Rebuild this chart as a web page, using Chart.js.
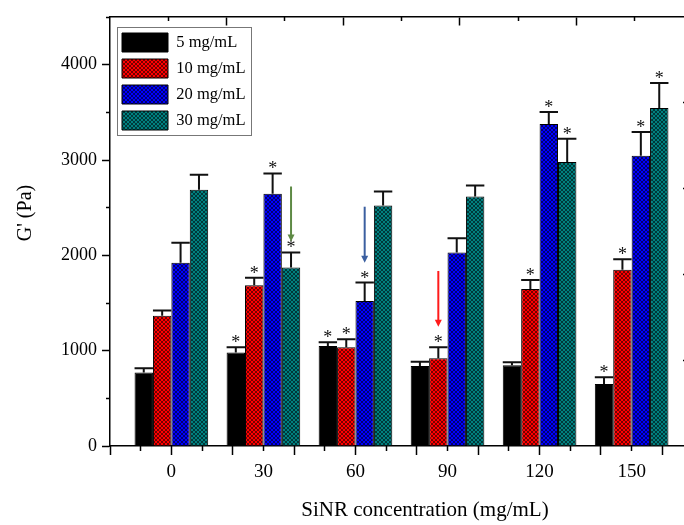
<!DOCTYPE html>
<html>
<head>
<meta charset="utf-8">
<script src="https://cdn.jsdelivr.net/npm/chart.js@4.4.1/dist/chart.umd.min.js"></script>
<style>
html,body{margin:0;padding:0;background:#fff;overflow:hidden;width:684px;height:525px}
#wrap{width:700px;height:525px;position:relative}
</style>
</head>
<body>
<div id="wrap"><canvas id="c" width="700" height="525"></canvas></div>
<script>
// ---------- data ----------
const categories = ['0', '30', '60', '90', '120', '150'];
const catPos = [1, 2.5, 4, 5.5, 7, 8.5];
const seriesNames = ['5 mg/mL', '10 mg/mL', '20 mg/mL', '30 mg/mL'];

const g5  = [770, 980, 1050, 840, 847, 651];
const g10 = [1365, 1687, 1036, 920, 1648, 1848];
const g20 = [1921, 2646, 1522, 2030, 3377, 3045];
const g30 = [2688, 1872, 2523, 2618, 2978, 3545];

const e5  = [46, 56, 39, 45, 31, 70];
const e10 = [56, 77, 84, 116, 92, 112];
const e20 = [210, 213, 193, 150, 126, 248];
const e30 = [157, 158, 147, 115, 245, 263];

const sig5  = [0, 1, 1, 0, 0, 1];
const sig10 = [0, 1, 1, 1, 1, 1];
const sig20 = [0, 1, 1, 0, 1, 1];
const sig30 = [0, 1, 0, 0, 1, 1];

const yTickValues = [0, 1000, 2000, 3000, 4000];
const yMinorTicks = [500, 1500, 2500, 3500, 4500];
const xMajorTicks = [0, 1, 2, 3, 4, 5, 6, 7, 8, 9];
const xMinorTicks = [0.5, 1.5, 2.5, 3.5, 4.5, 5.5, 6.5, 7.5, 8.5, 9.5];
const topMajorTicks = [1.9, 3.8, 5.7, 7.6];
const topMinorTicks = [0.95, 2.85, 4.75, 6.65, 8.55];
const rightTicks = [1, 2, 3, 4];
const yMax = 4500;

// annotation arrows: series index, category index, from value, to value
const arrowSeries = [3, 2, 1];
const arrowCat = [1, 2, 3];
const arrowFrom = [2722, 2510, 1836];
const arrowTo = [2145, 1923, 1252];
const arrowColors = ['#5e8a45', '#3b5fa0', '#ff1a1a'];

const seriesVals = [g5, g10, g20, g30];
const seriesErr = [e5, e10, e20, e30];
const seriesSig = [sig5, sig10, sig20, sig30];

// ---------- styles ----------
const FONT = '"Liberation Serif", "Times New Roman", serif';
Chart.defaults.font.family = FONT;
Chart.defaults.color = '#000';

const canvas = document.getElementById('c');
const mainCtx = canvas.getContext('2d');
function hatch(color) {
  const c = document.createElement('canvas');
  c.width = 4; c.height = 4;
  const x = c.getContext('2d');
  x.fillStyle = color; x.fillRect(0, 0, 4, 4);
  x.strokeStyle = 'rgba(0,0,0,0.7)'; x.lineWidth = 0.8;
  x.beginPath();
  x.moveTo(0, 0); x.lineTo(4, 4);
  x.moveTo(4, 0); x.lineTo(0, 4);
  x.stroke();
  return mainCtx.createPattern(c, 'repeat');
}
const fills = ['#000000', hatch('#ff0000'), hatch('#0000ff'), hatch('#008080')];

function tickAxis(axis, position, min, max, values, len, border) {
  return {
    type: 'linear', axis, position, min, max, weight: 0, offset: false,
    afterBuildTicks: s => { s.ticks = values.map(v => ({ value: v })); },
    afterFit: s => { if (axis === 'x') s.height = 0; else s.width = 0; },
    ticks: { display: false },
    grid: { display: true, offset: false, drawOnChartArea: false, drawTicks: true, tickLength: len, tickColor: '#000', tickWidth: 1.5 },
    border: { display: !!border, color: '#000', width: 1.5 }
  };
}

const decor = {
  id: 'decor',
  afterLayout(chart) {
    const lg = chart.legend, ca = chart.chartArea;
    if (lg) {
      lg.left = ca.left + 5; lg.top = ca.top + 9;
      lg.right = lg.left + lg.width; lg.bottom = lg.top + lg.height;
    }
  },
  afterDatasetsDraw(chart) {
    const ctx = chart.ctx, ys = chart.scales.y;
    ctx.save();
    seriesVals.forEach((vals, d) => {
      const meta = chart.getDatasetMeta(d);
      meta.data.forEach((el, i) => {
        const top = ys.getPixelForValue(vals[i] + seriesErr[d][i]);
        const w = el.width;
        ctx.strokeStyle = '#111'; ctx.lineWidth = 2;
        ctx.beginPath();
        ctx.moveTo(el.x, el.y); ctx.lineTo(el.x, top);
        ctx.moveTo(el.x - w / 2, top); ctx.lineTo(el.x + w / 2, top);
        ctx.stroke();
        if (seriesSig[d][i]) {
          ctx.fillStyle = '#111';
          ctx.font = '18px ' + FONT;
          ctx.textAlign = 'center'; ctx.textBaseline = 'alphabetic';
          ctx.fillText('*', el.x, top + 1);
        }
      });
    });
    arrowSeries.forEach((s, k) => {
      const el = chart.getDatasetMeta(s).data[arrowCat[k]];
      const x = el.x;
      const y1 = ys.getPixelForValue(arrowFrom[k]);
      const y2 = ys.getPixelForValue(arrowTo[k]);
      ctx.strokeStyle = arrowColors[k]; ctx.fillStyle = arrowColors[k];
      ctx.lineWidth = 2;
      ctx.beginPath(); ctx.moveTo(x, y1); ctx.lineTo(x, y2 - 6); ctx.stroke();
      ctx.beginPath(); ctx.moveTo(x - 3.5, y2 - 7); ctx.lineTo(x + 3.5, y2 - 7); ctx.lineTo(x, y2); ctx.closePath(); ctx.fill();
    });
    ctx.restore();
  },
  afterDraw(chart) {
    const ctx = chart.ctx, lg = chart.legend;
    ctx.save();
    if (lg) {
      ctx.strokeStyle = '#777'; ctx.lineWidth = 1;
      ctx.strokeRect(Math.round(lg.left + 2) + 0.5, Math.round(lg.top + 1) + 0.5, 134, 108);
    }
    ctx.fillStyle = '#000';
    ctx.textAlign = 'center'; ctx.textBaseline = 'middle';
    ctx.font = '21px ' + FONT;
    ctx.fillText('SiNR concentration (mg/mL)', 425, 510);
    ctx.translate(26, 213);
    ctx.rotate(-Math.PI / 2);
    ctx.font = '20px ' + FONT;
    ctx.fillText("G' (Pa)", 0, 0);
    ctx.restore();
  }
};

new Chart(canvas, {
  type: 'bar',
  data: {
    datasets: seriesNames.map((name, d) => ({
      label: name,
      data: seriesVals[d].map((v, i) => ({ x: catPos[i], y: v })),
      backgroundColor: fills[d],
      borderColor: '#000',
      borderWidth: 1,
      categoryPercentage: 0.8,
      barPercentage: 1.0,
      xAxisID: 'x', yAxisID: 'y'
    }))
  },
  options: {
    responsive: false,
    animation: false,
    layout: { padding: { left: 0, top: 17, right: 7, bottom: 0 } },
    plugins: {
      tooltip: { enabled: false },
      legend: {
        position: 'chartArea',
        align: 'start',
        labels: {
          boxWidth: 46, boxHeight: 19, padding: 7,
          color: '#000',
          font: { size: 16.5, family: FONT }
        }
      }
    },
    scales: {
      x: {
        type: 'linear', axis: 'x', position: 'bottom', min: 0, max: 9.5, weight: 1, offset: false,
        afterBuildTicks: s => { s.ticks = catPos.map(v => ({ value: v })); },
        afterFit: s => { s.height = 79; },
        ticks: { callback: (v, i) => categories[i], autoSkip: false, maxRotation: 0, padding: 15, font: { size: 19 }, color: '#000' },
        grid: { display: false, offset: false, drawTicks: false },
        border: { display: true, color: '#000', width: 1.5 }
      },
      xMajor: tickAxis('x', 'bottom', 0, 9.5, xMajorTicks, 9, false),
      xMinor: tickAxis('x', 'bottom', 0, 9.5, xMinorTicks, 5, false),
      x2Major: tickAxis('x', { y: yMax }, 0, 9.5, topMajorTicks, 8, true),
      x2Minor: tickAxis('x', { y: yMax }, 0, 9.5, topMinorTicks, 4, false),
      y: {
        type: 'linear', axis: 'y', position: 'left', min: 0, max: yMax, weight: 1,
        afterBuildTicks: s => { s.ticks = yTickValues.map(v => ({ value: v })); },
        afterFit: s => { s.width = 110; },
        ticks: { callback: v => String(v), padding: 5, font: { size: 18 }, color: '#000' },
        grid: { display: true, drawOnChartArea: false, drawTicks: true, tickLength: 8, tickColor: '#000', tickWidth: 1.5 },
        border: { display: true, color: '#000', width: 1.5 }
      },
      yMinor: tickAxis('y', 'left', 0, yMax, yMinorTicks, 4, false),
      y2: tickAxis('y', 'right', 0, 5, rightTicks, -10, true)
    }
  },
  plugins: [decor]
});
</script>
</body>
</html>
